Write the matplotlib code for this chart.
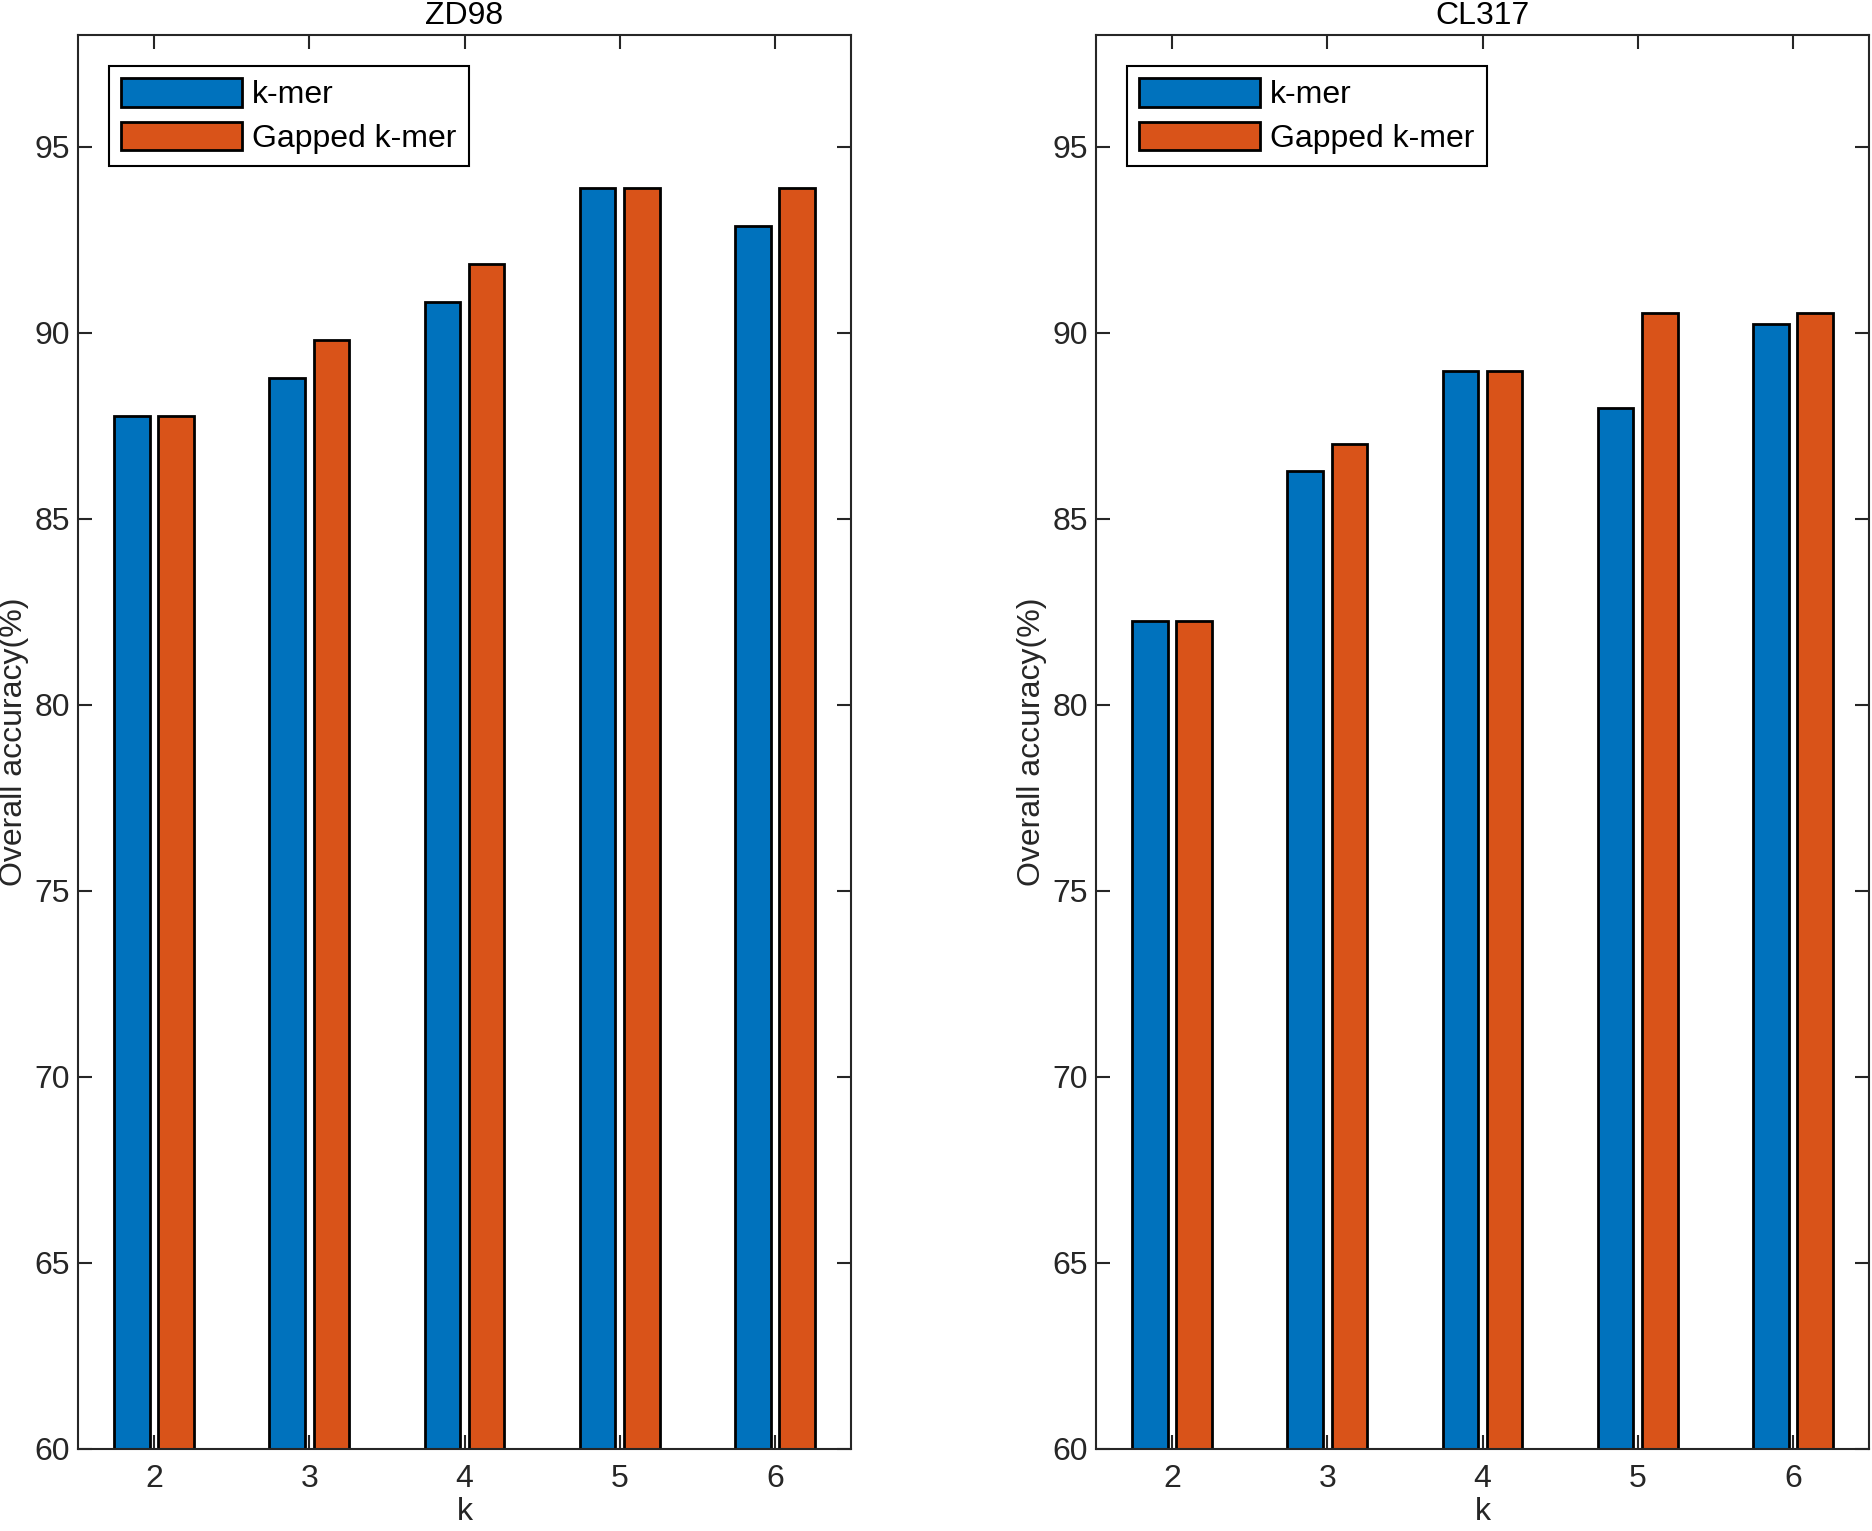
import numpy as np
import matplotlib
matplotlib.use("Agg")
import matplotlib.pyplot as plt

# ---- data ----
k_values = [2, 3, 4, 5, 6]
series_names = ["k-mer", "Gapped k-mer"]
titles = ["ZD98", "CL317"]
zd98_kmer = [87.76, 88.78, 90.82, 93.88, 92.86]
zd98_gapped = [87.76, 89.80, 91.84, 93.88, 93.88]
cl317_kmer = [82.26, 86.28, 88.96, 87.97, 90.22]
cl317_gapped = [82.26, 87.01, 88.96, 90.54, 90.54]
y_ticks = [60, 65, 70, 75, 80, 85, 90, 95]

panels = [(zd98_kmer, zd98_gapped), (cl317_kmer, cl317_gapped)]

plt.rcParams['font.family'] = ['Liberation Sans', 'DejaVu Sans']

W, H = 1872, 1531
fig = plt.figure(figsize=(W / 100, H / 100), dpi=100)

axc = '#262626'
colors = ['#0072BD', '#D95319']
fs = 23

ax_lefts = [78 / W, 1096 / W]
ax_w = 773 / W
ax_b = (H - 1449) / H
ax_h = 1414 / H

offset = 0.1429
width = 0.2286

for i, (title, (s1, s2)) in enumerate(zip(titles, panels)):
    ax = fig.add_axes([ax_lefts[i], ax_b, ax_w, ax_h])
    x = np.array(k_values, dtype=float)
    for j, (vals, c, name) in enumerate(zip((s1, s2), colors, series_names)):
        ax.bar(x + (-offset if j == 0 else offset), np.array(vals) - 60, bottom=60,
               width=width, color=c, edgecolor='black', linewidth=2.0,
               label=name, zorder=2)
    ax.set_axisbelow(True)
    ax.set_xlim(1.51, 6.49)
    ax.set_ylim(60, 98)
    ax.set_xticks(k_values)
    ax.set_xticklabels([str(k) for k in k_values])
    ax.set_yticks(y_ticks)
    ax.tick_params(direction='in', length=10, width=1.5, colors=axc,
                   labelsize=fs, top=True, right=True, pad=6)
    ax.tick_params(axis='x', pad=11)
    for sp in ax.spines.values():
        sp.set_color(axc)
        sp.set_linewidth(1.5)
    ax.set_title(title, fontsize=fs, color='black', pad=8)
    ax.set_xlabel('k', fontsize=fs, color=axc, labelpad=2)
    ax.set_ylabel('Overall accuracy(%)', fontsize=fs, color=axc, labelpad=4)
    leg = ax.legend(loc='upper left', bbox_to_anchor=(0.040, 0.978),
                    borderaxespad=0, fontsize=fs, fancybox=False,
                    edgecolor='black', framealpha=1, handlelength=3.8,
                    handleheight=1.0, handletextpad=0.3, labelspacing=0.35,
                    borderpad=0.38)
    leg.get_frame().set_linewidth(1.5)

fig.savefig('out.png', dpi=100)
